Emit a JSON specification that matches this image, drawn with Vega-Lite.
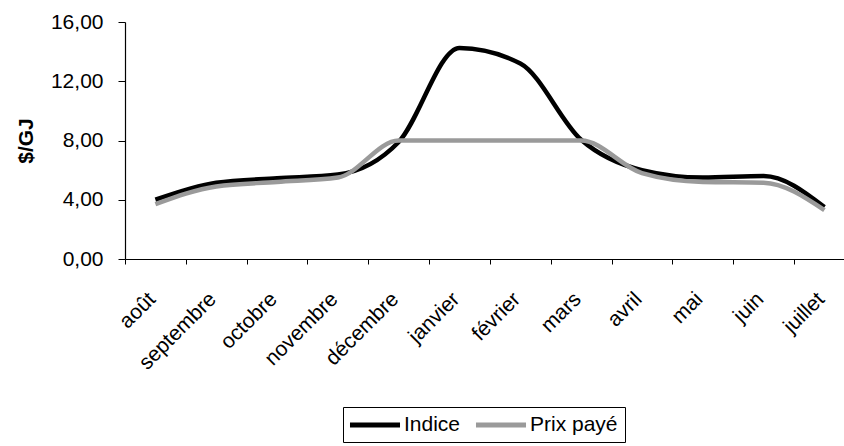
{
  "$schema": "https://vega.github.io/schema/vega-lite/v6.json",
  "autosize": {"type": "none"},
  "padding": {"left": 125, "top": 22, "right": 0, "bottom": 187},
  "width": 719,
  "height": 237,
  "background": "white",
  "config": {
    "view": {"stroke": null},
    "font": "Liberation Sans",
    "axis": {"grid": false, "domainColor": "black", "tickColor": "black", "labelColor": "black", "titleColor": "black", "labelFont": "Liberation Sans", "titleFont": "Liberation Sans"},
    "legend": {"labelFont": "Liberation Sans"}
  },
  "data": {
    "values": [
      {"rang": 0.5, "serie": "Indice", "valeur": 4.0},
      {"rang": 1.5, "serie": "Indice", "valeur": 5.15},
      {"rang": 2.5, "serie": "Indice", "valeur": 5.45},
      {"rang": 3.5, "serie": "Indice", "valeur": 5.7},
      {"rang": 4.5, "serie": "Indice", "valeur": 7.9},
      {"rang": 5.5, "serie": "Indice", "valeur": 14.25},
      {"rang": 6.5, "serie": "Indice", "valeur": 13.2},
      {"rang": 7.5, "serie": "Indice", "valeur": 8.05},
      {"rang": 8.5, "serie": "Indice", "valeur": 6.0},
      {"rang": 9.5, "serie": "Indice", "valeur": 5.5},
      {"rang": 10.5, "serie": "Indice", "valeur": 5.6},
      {"rang": 11.5, "serie": "Indice", "valeur": 3.5},
      {"rang": 0.5, "serie": "Prix payé", "valeur": 3.7},
      {"rang": 1.5, "serie": "Prix payé", "valeur": 4.9},
      {"rang": 2.5, "serie": "Prix payé", "valeur": 5.2},
      {"rang": 3.5, "serie": "Prix payé", "valeur": 5.5},
      {"rang": 4.5, "serie": "Prix payé", "valeur": 8.0},
      {"rang": 5.5, "serie": "Prix payé", "valeur": 8.0},
      {"rang": 6.5, "serie": "Prix payé", "valeur": 8.0},
      {"rang": 7.5, "serie": "Prix payé", "valeur": 8.0},
      {"rang": 8.5, "serie": "Prix payé", "valeur": 5.8},
      {"rang": 9.5, "serie": "Prix payé", "valeur": 5.2},
      {"rang": 10.5, "serie": "Prix payé", "valeur": 5.15},
      {"rang": 11.5, "serie": "Prix payé", "valeur": 3.3}
    ]
  },
  "mark": {"type": "line", "interpolate": "monotone", "strokeWidth": 4.5, "clip": true},
  "encoding": {
    "x": {
      "field": "rang",
      "type": "quantitative",
      "scale": {"domain": [0, 11.822], "nice": false, "zero": false},
      "axis": {
        "title": null,
        "values": [0, 1, 2, 3, 4, 5, 6, 7, 8, 9, 10, 11],
        "labelExpr": "['août','septembre','octobre','novembre','décembre','janvier','février','mars','avril','mai','juin','juillet'][datum.value]",
        "labelAngle": -45,
        "labelAlign": "right",
        "labelBaseline": "top",
        "labelOffset": 19,
        "labelPadding": 24,
        "labelFontSize": 21,
        "labelOverlap": false,
        "labelBound": false,
        "labelFlush": false,
        "tickSize": 5,
        "domainWidth": 1.2
      }
    },
    "y": {
      "field": "valeur",
      "type": "quantitative",
      "scale": {"domain": [0, 16], "nice": false},
      "axis": {
        "title": "$/GJ",
        "titleFontSize": 21,
        "titleFontWeight": "bold",
        "titlePadding": 14,
        "values": [0, 4, 8, 12, 16],
        "labelExpr": "replace(format(datum.value, '.2f'), '.', ',')",
        "labelFontSize": 21,
        "labelPadding": 15,
        "tickSize": 7,
        "domainWidth": 1.2
      }
    },
    "color": {
      "field": "serie",
      "type": "nominal",
      "scale": {"domain": ["Indice", "Prix payé"], "range": ["#000000", "#9a9a9a"]},
      "legend": {
        "title": null,
        "orient": "none",
        "legendX": 218,
        "legendY": 385,
        "direction": "horizontal",
        "symbolType": "M-3,0H3",
        "symbolSize": 278,
        "symbolOffset": 14,
        "symbolStrokeWidth": 5,
        "labelFontSize": 21,
        "labelColor": "black",
        "labelOffset": 18,
        "columnPadding": 4,
        "padding": 7,
        "strokeColor": "black",
        "fillColor": "white"
      }
    }
  }
}
